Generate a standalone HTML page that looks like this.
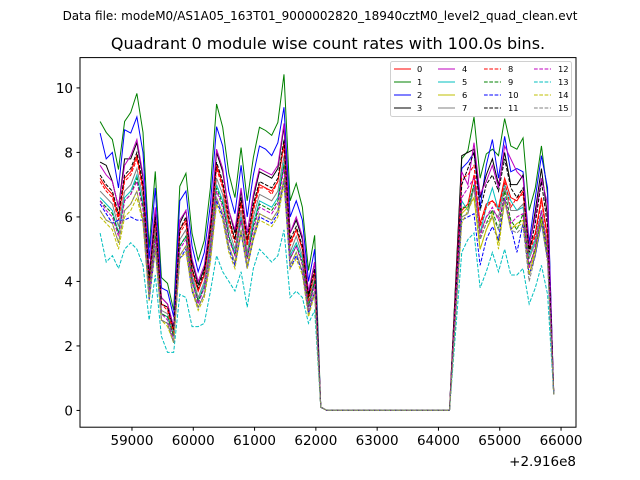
<!DOCTYPE html>
<html><head><meta charset="utf-8"><style>
body{margin:0;background:#fff}
svg{display:block;font-family:"DejaVu Sans","Liberation Sans",sans-serif}
</style></head><body>
<svg id="chart" width="640" height="480" viewBox="0 0 640 480">
<rect width="640" height="480" fill="#fff"/>
<text x="320" y="20" font-size="12" text-anchor="middle">Data file: modeM0/AS1A05_163T01_9000002820_18940cztM0_level2_quad_clean.evt</text>
<text x="328" y="49" font-size="16" text-anchor="middle">Quadrant 0 module wise count rates with 100.0s bins.</text>
<g id="plot"></g>
<rect x="80" y="57.6" width="496" height="369.6" fill="none" stroke="#000" stroke-width="1"/>
<g id="xticks"></g>
<g id="yticks"></g>
<text x="576" y="466" font-size="13.5" text-anchor="end">+2.916e8</text>
<g id="legend"></g>
</svg>
<script>
const times=[58480,58580,58680,58780,58880,58980,59080,59180,59280,59380,59480,59580,59680,59780,59880,59980,60080,60180,60280,60380,60480,60580,60680,60780,60880,60980,61080,61180,61280,61380,61480,61580,61680,61780,61880,61980,62080,62180,62280,62380,62480,62580,62680,62780,62880,62980,63080,63180,63280,63380,63480,63580,63680,63780,63880,63980,64080,64180,64280,64380,64480,64580,64680,64780,64880,64980,65080,65180,65280,65380,65480,65580,65680,65780,65880];
const s0=[7.2,6.9,6.7,6.0,7.2,7.4,7.9,6.9,4.0,5.9,3.3,3.2,2.5,5.6,5.9,4.4,3.7,4.2,5.5,7.6,7.0,5.9,5.3,6.5,5.2,6.3,7.0,6.9,6.8,7.1,8.3,5.2,5.6,5.0,3.5,4.3,0.1,0,0,0,0,0,0,0,0,0,0,0,0,0,0,0,0,0,0,0,0,0,3.1,6.2,6.4,7.3,5.8,6.4,6.5,6.3,7.2,6.6,6.5,6.8,5.0,5.5,6.6,5.4,0.5];
const s1=[8.96,8.62,8.4,7.47,8.96,9.24,9.83,8.62,5.05,7.41,4.12,3.94,3.1,6.95,7.35,5.49,4.65,5.27,6.91,9.5,8.78,7.35,6.6,8.15,6.5,7.84,8.78,8.68,8.53,8.93,10.42,6.5,7.04,6.3,4.34,5.43,0.1,0,0,0,0,0,0,0,0,0,0,0,0,0,0,0,0,0,0,0,0,0,3.9,7.8,8.05,9.1,7.2,7.95,8.1,7.9,9.05,8.2,8.1,8.45,6.2,6.9,8.2,6.7,0.5];
const s2=[8.6,7.8,8.0,6.9,8.7,8.6,9.1,8.0,4.7,6.9,3.8,3.7,2.9,6.5,6.8,5.1,4.3,4.9,6.4,8.8,8.2,6.8,6.1,7.6,6.0,7.3,8.2,8.1,7.9,8.3,9.4,6.0,6.5,5.9,4.0,5.0,0.1,0,0,0,0,0,0,0,0,0,0,0,0,0,0,0,0,0,0,0,0,0,3.75,7.5,7.7,8.0,6.3,7.6,8.4,7.2,8.5,7.4,7.5,7.4,5.2,6.6,7.9,6.9,0.5];
const s3=[7.7,7.6,7.1,6.3,7.8,7.8,8.3,7.2,4.2,6.2,3.5,3.3,2.6,5.8,6.2,4.6,3.9,4.4,5.8,8.0,7.4,6.2,5.5,6.8,5.5,6.6,7.4,7.3,7.2,7.5,8.8,5.5,5.9,5.3,3.6,4.6,0.1,0,0,0,0,0,0,0,0,0,0,0,0,0,0,0,0,0,0,0,0,0,3.95,7.9,8.0,8.1,6.6,7.3,7.8,7.0,8.0,7.0,7.0,7.3,5.0,6.2,7.5,6.0,0.6];
const s4=[7.6,7.3,7.1,6.3,7.6,7.9,8.4,7.3,4.3,6.3,3.5,3.3,2.6,5.9,6.2,4.7,4.0,4.5,5.9,8.1,7.5,6.2,5.6,6.9,5.5,6.7,7.5,7.4,7.3,7.6,8.9,5.5,6.0,5.4,3.7,4.6,0.1,0,0,0,0,0,0,0,0,0,0,0,0,0,0,0,0,0,0,0,0,0,3.7,7.4,7.0,8.3,6.7,7.1,7.6,6.9,8.2,7.8,7.4,7.2,5.1,6.0,7.2,6.4,0.6];
const s5=[6.6,6.4,6.2,5.5,6.6,6.8,7.3,6.4,3.7,5.5,3.0,2.9,2.3,5.1,5.4,4.1,3.4,3.9,5.1,7.0,6.5,5.4,4.9,6.0,4.8,5.8,6.5,6.4,6.3,6.6,7.7,4.8,5.2,4.7,3.2,4.0,0.1,0,0,0,0,0,0,0,0,0,0,0,0,0,0,0,0,0,0,0,0,0,3.25,6.5,6.2,7.0,5.5,6.3,6.9,6.2,7.0,6.5,6.2,6.3,4.8,5.3,6.2,5.0,0.5];
const s6=[6.2,5.9,5.8,5.2,6.2,6.4,6.8,5.9,3.5,5.1,2.8,2.7,2.1,4.8,5.1,3.8,3.2,3.6,4.8,6.6,6.1,5.1,4.6,5.6,4.5,5.4,6.1,6.0,5.9,6.2,7.2,4.5,4.9,4.3,3.0,3.7,0.1,0,0,0,0,0,0,0,0,0,0,0,0,0,0,0,0,0,0,0,0,0,3.05,6.1,6.3,6.6,5.0,5.6,6.0,5.2,6.5,5.6,5.8,5.9,4.2,5.0,6.0,4.8,0.5];
const s7=[6.8,6.6,6.4,5.7,6.8,7.0,7.5,6.6,3.8,5.6,3.1,3.0,2.4,5.3,5.6,4.2,3.5,4.0,5.3,7.2,6.7,5.6,5.0,6.2,4.9,6.0,6.7,6.6,6.5,6.8,7.9,4.9,5.4,4.8,3.3,4.1,0.1,0,0,0,0,0,0,0,0,0,0,0,0,0,0,0,0,0,0,0,0,0,3.0,6.0,6.1,6.9,5.5,6.0,6.2,6.0,6.9,6.2,6.2,6.4,4.7,5.2,6.2,5.1,0.5];
const s8=[7.1,6.8,6.6,5.9,7.1,7.3,7.8,6.8,4.0,5.9,3.3,3.1,2.4,5.5,5.8,4.3,3.7,4.2,5.5,7.5,6.9,5.8,5.2,6.4,5.1,6.2,6.9,6.9,6.7,7.1,8.2,5.1,5.6,5.0,3.4,4.3,0.1,0,0,0,0,0,0,0,0,0,0,0,0,0,0,0,0,0,0,0,0,0,3.6,7.2,7.3,7.6,5.7,6.3,6.5,6.2,7.1,6.3,6.6,6.7,4.9,5.4,6.5,5.3,0.5];
const s9=[6.5,6.3,6.1,5.5,6.5,6.7,7.2,6.3,3.7,5.4,3.0,2.9,2.3,5.1,5.4,4.0,3.4,3.8,5.0,6.9,6.4,5.4,4.8,5.9,4.7,5.7,6.4,6.3,6.2,6.5,7.6,4.7,5.1,4.6,3.2,4.0,0.1,0,0,0,0,0,0,0,0,0,0,0,0,0,0,0,0,0,0,0,0,0,3.15,6.3,6.3,7.0,5.3,5.8,6.2,5.6,6.8,5.9,5.6,6.1,4.5,5.0,6.0,4.9,0.5];
const s10=[6.4,6.1,5.8,5.9,5.9,6.0,5.9,5.9,3.4,5.0,2.8,2.7,2.1,4.7,5.0,3.7,3.2,3.6,4.7,6.5,6.0,5.0,4.5,5.5,4.4,5.3,6.0,5.9,5.8,6.1,7.1,4.4,4.8,4.3,3.0,3.7,0.1,0,0,0,0,0,0,0,0,0,0,0,0,0,0,0,0,0,0,0,0,0,2.95,5.9,6.0,6.1,4.5,5.3,5.7,5.3,6.6,5.7,4.9,5.8,4.2,4.8,5.8,4.7,0.5];
const s11=[7.3,7.0,6.8,6.1,7.3,7.5,8.0,7.0,4.1,6.0,3.3,3.2,2.5,5.6,6.0,4.4,3.8,4.3,5.6,7.7,7.1,6.0,5.3,6.6,5.3,6.4,7.1,7.0,6.9,7.2,8.4,5.3,5.7,5.1,3.5,4.4,0.1,0,0,0,0,0,0,0,0,0,0,0,0,0,0,0,0,0,0,0,0,0,3.5,7.0,7.5,8.0,6.2,7.0,7.3,6.8,7.8,6.9,6.6,6.9,4.9,5.8,7.1,5.7,0.6];
const s12=[6.5,6.2,6.0,5.4,6.5,6.7,7.1,6.2,3.6,5.3,3.0,2.8,2.2,5.0,5.3,4.0,3.3,3.8,5.0,6.8,6.3,5.3,4.8,5.9,4.7,5.6,6.3,6.2,6.1,6.4,7.5,4.7,5.1,4.5,3.1,3.9,0.1,0,0,0,0,0,0,0,0,0,0,0,0,0,0,0,0,0,0,0,0,0,3.3,6.6,6.9,7.2,5.4,6.0,6.3,5.9,6.6,5.8,6.0,6.1,4.4,5.1,6.2,5.0,0.5];
const s13=[5.5,4.6,4.8,4.4,5.0,5.2,5.0,4.5,2.8,4.2,2.3,1.8,1.8,3.6,3.5,2.6,2.6,2.7,3.7,4.8,4.3,4.0,3.7,4.3,3.2,4.4,5.0,4.8,4.6,4.8,5.6,3.5,3.7,3.5,2.7,3.1,0.1,0,0,0,0,0,0,0,0,0,0,0,0,0,0,0,0,0,0,0,0,0,2.45,4.9,5.3,5.5,3.8,4.3,4.9,4.3,5.0,4.2,4.2,4.4,3.3,3.8,4.5,3.6,0.5];
const s14=[6.0,5.8,5.6,5.0,6.0,6.2,6.6,5.8,3.4,5.0,2.8,2.6,2.1,4.7,4.9,3.7,3.1,3.5,4.6,6.4,5.9,4.9,4.4,5.5,4.4,5.3,5.9,5.8,5.7,6.0,7.0,4.4,4.7,4.2,2.9,3.6,0.1,0,0,0,0,0,0,0,0,0,0,0,0,0,0,0,0,0,0,0,0,0,2.9,5.8,6.2,6.6,5.0,5.6,6.1,5.0,6.5,5.7,5.7,5.8,4.2,4.9,5.9,4.6,0.5];
const s15=[6.2,5.9,5.8,5.2,6.2,6.4,6.8,5.9,3.5,5.1,2.8,2.7,2.1,4.8,5.1,3.8,3.2,3.6,4.8,6.6,6.1,5.1,4.6,5.6,4.5,5.4,6.1,6.0,5.9,6.2,7.2,4.5,4.9,4.3,3.0,3.7,0.1,0,0,0,0,0,0,0,0,0,0,0,0,0,0,0,0,0,0,0,0,0,3.0,6.0,6.1,6.9,5.3,5.8,6.0,5.6,6.5,5.6,5.5,5.7,4.0,4.8,5.8,4.6,0.5];
const seriesLabels=["0","1","2","3","4","5","6","7","8","9","10","11","12","13","14","15"];
const xTicks=[59000,60000,61000,62000,63000,64000,65000,66000];
const yTicks=[0,2,4,6,8,10];

const series=[s0,s1,s2,s3,s4,s5,s6,s7,s8,s9,s10,s11,s12,s13,s14,s15];
const colors=["#ff0000","#008000","#0000ff","#000000","#bf00bf","#00bfbf","#bfbf00","#808080"];
const NS="http://www.w3.org/2000/svg";
const X0=80,X1=576,Y0=57.6,Y1=427.2;
const xmin=58152,xmax=66244,ymin=-0.52,ymax=10.94;
function xs(t){return X0+(t-xmin)/(xmax-xmin)*(X1-X0);}
function ys(v){return Y1-(v-ymin)/(ymax-ymin)*(Y1-Y0);}
function mk(tag,attrs,parent){const e=document.createElementNS(NS,tag);for(const k in attrs)e.setAttribute(k,attrs[k]);parent.appendChild(e);return e;}
const plot=document.getElementById('plot');
series.forEach((s,i)=>{
  const d=s.map((v,j)=>(j?'L':'M')+xs(times[j]).toFixed(2)+','+ys(v).toFixed(2)).join('');
  const p=mk('path',{d:d,fill:'none',stroke:colors[i%8],'stroke-width':1,'stroke-dasharray':i>=8?'3.7,1.6':'none'},plot);
  
  
});
const xg=document.getElementById('xticks');
xTicks.forEach(t=>{
  const x=xs(t);
  const l=mk('line',{x1:x,x2:x,y1:Y1,y2:Y1+3.5,stroke:'#000'},xg);
  
  
  const tx=mk('text',{x:x,y:Y1+18,'font-size':13.5,'text-anchor':'middle'},xg);
  tx.textContent=t;
  
  
});
const yg=document.getElementById('yticks');
yTicks.forEach(v=>{
  const y=ys(v);
  const l=mk('line',{x1:X0-3.5,x2:X0,y1:y,y2:y,stroke:'#000'},yg);
  
  
  const tx=mk('text',{x:X0-7,y:y+5,'font-size':13.5,'text-anchor':'end'},yg);
  tx.textContent=v;
  
  
});
const lg=document.getElementById('legend');
const box=mk('rect',{x:390.5,y:61.5,width:181,height:55,rx:2,fill:'#fff','fill-opacity':0.8,stroke:'#d0d0d0'},lg);


const colLine=[394,438,484,534],colText=[417,462,508,558],rowY=[69,82,95,108];
seriesLabels.forEach((lab,i)=>{
  const c=Math.floor(i/4),r=i%4;
  const g=mk('g',{},lg);
  
  
  mk('line',{x1:colLine[c],x2:colLine[c]+17,y1:rowY[r],y2:rowY[r],stroke:colors[i%8],'stroke-width':1,'stroke-dasharray':i>=8?'3.7,1.6':'none'},g);
  const t=mk('text',{x:colText[c],y:rowY[r]+3,'font-size':8.3},g);
  t.textContent=lab;
});
</script>
</body></html>
